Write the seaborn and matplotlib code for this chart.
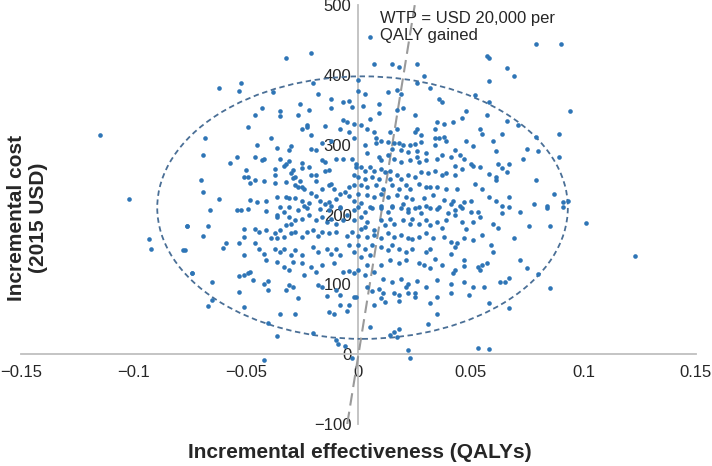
import numpy as np
import pandas as pd
import seaborn as sns
import matplotlib.pyplot as plt
from matplotlib.patches import Ellipse

# bootstrap replicates (incremental QALYs, incremental cost in 2015 USD)
upper_left = [
    (-0.062, 381), (-0.052, 389), (-0.053, 377), (-0.038, 375), (-0.020, 388), (-0.018, 373),
    (-0.012, 365), (-0.007, 361), (-0.004, 362), (-0.003, 354), (-0.012, 353), (-0.026, 358),
    (-0.043, 353), (-0.046, 342), (-0.035, 348), (-0.035, 341), (-0.027, 343), (-0.022, 350),
    (-0.007, 335), (-0.005, 332), (-0.002, 330), (-0.023, 328), (-0.023, 325), (-0.025, 322),
    (-0.015, 327), (-0.049, 325), (-0.068, 309), (-0.039, 310), (-0.021, 314), (-0.008, 322),
    (-0.004, 319), (-0.002, 310), (-0.012, 306), (-0.016, 302), (-0.019, 293), (-0.021, 294),
    (-0.030, 298), (-0.031, 292), (-0.036, 296), (-0.045, 300), (-0.069, 285), (-0.054, 282),
    (-0.057, 274), (-0.046, 283), (-0.043, 278), (-0.042, 279), (-0.035, 279), (-0.032, 273),
    (-0.033, 269), (-0.031, 277), (-0.025, 274), (-0.025, 267), (-0.022, 268), (-0.016, 278),
    (-0.015, 276), (-0.010, 279), (-0.007, 279), (-0.003, 279), (-0.013, 264), (-0.015, 262),
    (-0.019, 257), (-0.019, 248), (-0.021, 256), (-0.029, 264), (-0.030, 259), (-0.029, 253),
    (-0.037, 266), (-0.037, 257), (-0.050, 264), (-0.051, 254), (-0.049, 254), (-0.070, 249),
    (-0.069, 232), (-0.062, 222), (-0.048, 245), (-0.046, 250), (-0.042, 248), (-0.037, 245),
    (-0.032, 247), (-0.028, 254), (-0.026, 248), (-0.028, 243), (-0.027, 239), (-0.025, 240),
    (-0.024, 236), (-0.021, 231), (-0.019, 226), (-0.016, 236), (-0.013, 242), (-0.012, 244),
    (-0.011, 237), (-0.008, 230), (-0.006, 232), (-0.004, 239), (-0.002, 243), (-0.001, 268),
    (-0.002, 256), (-0.048, 221), (-0.045, 218), (-0.041, 220), (-0.036, 225), (-0.032, 225),
    (-0.031, 224), (-0.028, 224), (-0.025, 220), (-0.024, 213), (-0.022, 216), (-0.017, 219),
    (-0.015, 215), (-0.013, 218), (-0.012, 212), (-0.010, 223), (-0.008, 211), (-0.004, 226),
    (-0.002, 220), (-0.035, 211), (-0.031, 211), (-0.049, 208),
]

upper_right = [
    (0.007, 415), (0.015, 416), (0.018, 412), (0.026, 416), (0.029, 399), (0.026, 389),
    (0.032, 381), (-0.0004, 393), (-0.0004, 377), (0.003, 372), (0.013, 375), (0.017, 379),
    (0.019, 373), (0.036, 365), (0.037, 361), (0.058, 391), (0.066, 410), (0.069, 398),
    (0.052, 371), (0.058, 361), (0.002, 355), (0.009, 359), (0.009, 346), (0.017, 350),
    (0.020, 352), (0.025, 343), (0.048, 349), (0.057, 342), (0.066, 334), (0.071, 328),
    (0.094, 348), (0.005, 337), (0.001, 328), (0.004, 323), (0.007, 318), (0.008, 310),
    (0.010, 306), (0.014, 318), (0.017, 322), (0.026, 323), (0.025, 318), (0.028, 314),
    (0.035, 332), (0.034, 323), (0.038, 330), (0.042, 332), (0.046, 338), (0.034, 309),
    (0.036, 310), (0.038, 311), (0.039, 305), (0.034, 299), (0.054, 322), (0.055, 315),
    (0.064, 315), (0.060, 306), (0.079, 311), (0.089, 315), (0.048, 305), (0.051, 298),
    (0.043, 293), (0.075, 294), (0.080, 291), (0.061, 291), (0.073, 280), (0.089, 282),
    (0.013, 304), (0.016, 302), (0.018, 303), (0.020, 299), (0.023, 299), (0.025, 301),
    (0.028, 304), (0.015, 294), (0.019, 292), (0.022, 290), (0.026, 291), (0.030, 288),
    (0.008, 302), (0.003, 299), (0.004, 288), (0.009, 282), (0.010, 278), (0.013, 285),
    (0.016, 280), (0.019, 275), (0.023, 278), (0.026, 282), (0.027, 275), (0.030, 278),
    (0.035, 280), (0.037, 286), (0.041, 282), (0.045, 286), (0.047, 280), (0.043, 269),
    (0.046, 266), (0.050, 273), (0.051, 269), (0.054, 268), (0.062, 273), (0.064, 267),
    (0.067, 272), (0.066, 261), (0.058, 258), (0.061, 254), (0.061, 249), (0.052, 244),
    (0.055, 237), (0.079, 249), (0.087, 230), (0.091, 218), (-0.001, 273), (0.001, 268),
    (0.003, 263), (0.005, 268), (0.007, 263), (0.010, 266), (0.012, 261), (0.014, 263),
    (0.000, 254), (0.003, 251), (0.006, 254), (0.009, 251), (0.014, 251), (0.017, 256),
    (0.019, 251), (0.022, 256), (0.025, 254), (0.028, 261), (0.031, 259), (0.034, 263),
    (0.037, 256), (0.039, 259), (0.043, 256), (0.001, 242), (0.004, 240), (0.008, 242),
    (0.011, 237), (0.015, 242), (0.018, 237), (0.021, 242), (0.023, 237), (0.027, 244),
    (0.030, 240), (0.032, 240), (0.035, 240), (0.039, 237), (0.044, 237), (0.000, 230),
    (0.004, 228), (0.007, 225), (0.010, 230), (0.013, 225), (0.017, 228), (0.021, 225),
    (0.024, 223), (0.029, 224), (0.033, 228), (0.038, 221), (0.042, 220), (0.047, 218),
    (0.050, 220), (0.058, 225), (0.061, 220), (0.067, 225), (0.064, 212), (0.078, 215),
    (0.084, 212), (0.001, 216), (0.005, 211), (0.010, 213), (0.015, 212), (0.020, 215),
    (0.022, 208), (0.027, 211), (0.030, 212), (0.036, 211), (0.041, 215), (0.045, 212),
]

lower_left = [
    (-0.066, 207), (-0.054, 207), (-0.052, 207), (-0.041, 205), (-0.036, 197), (-0.036, 199),
    (-0.076, 184), (-0.067, 184), (-0.069, 169), (-0.092, 151), (-0.077, 149), (-0.060, 152),
    (-0.059, 159), (-0.053, 160), (-0.051, 180), (-0.051, 168), (-0.046, 179), (-0.044, 175),
    (-0.041, 178), (-0.046, 159), (-0.044, 151), (-0.051, 142), (-0.042, 144), (-0.041, 135),
    (-0.039, 166), (-0.037, 173), (-0.035, 178), (-0.032, 185), (-0.030, 187), (-0.028, 192),
    (-0.031, 197), (-0.025, 194), (-0.022, 199), (-0.019, 192), (-0.016, 197), (-0.014, 190),
    (-0.012, 194), (-0.010, 187), (-0.007, 192), (-0.005, 199), (-0.002, 192), (-0.033, 203),
    (-0.027, 206), (-0.023, 209), (-0.017, 208), (-0.013, 206), (-0.008, 209), (-0.002, 206),
    (-0.036, 166), (-0.033, 168), (-0.030, 173), (-0.028, 175), (-0.025, 168), (-0.023, 175),
    (-0.020, 178), (-0.018, 170), (-0.016, 175), (-0.013, 173), (-0.010, 175), (-0.005, 170),
    (-0.003, 175), (-0.037, 151), (-0.035, 147), (-0.033, 151), (-0.030, 142), (-0.028, 149),
    (-0.025, 142), (-0.020, 154), (-0.018, 147), (-0.014, 151), (-0.012, 144), (-0.010, 151),
    (-0.008, 142), (-0.004, 156), (-0.002, 147), (-0.036, 132), (-0.033, 125), (-0.031, 120),
    (-0.029, 132), (-0.025, 130), (-0.024, 113), (-0.021, 125), (-0.019, 118), (-0.016, 128),
    (-0.011, 130), (-0.007, 118), (-0.004, 119), (-0.002, 116), (-0.053, 112), (-0.051, 114),
    (-0.049, 116), (-0.048, 118), (-0.047, 107), (-0.042, 101), (-0.040, 105), (-0.031, 99),
    (-0.029, 97), (-0.018, 99), (-0.016, 96), (-0.014, 83), (-0.010, 92), (-0.008, 85),
    (-0.002, 82), (-0.074, 117), (-0.065, 103), (-0.065, 78), (-0.067, 69), (-0.053, 89),
    (-0.051, 68), (-0.040, 92), (-0.032, 92), (-0.027, 81), (-0.008, 70), (-0.004, 70),
    (-0.005, 62), (-0.013, 61), (-0.011, 58), (-0.028, 57), (-0.035, 57), (-0.040, 45),
    (-0.036, 26), (-0.020, 30), (-0.010, 20), (-0.006, 12), (-0.009, 14), (-0.042, -8),
    (-0.003, -6),
]

lower_right = [
    (0.000, 211), (0.003, 204), (0.006, 209), (0.010, 209), (0.013, 204), (0.015, 211),
    (0.019, 209), (0.022, 204), (0.025, 209), (0.028, 202), (0.032, 209), (0.035, 208),
    (0.040, 202), (0.043, 206), (0.046, 209), (0.050, 204), (0.053, 204), (0.064, 202),
    (0.072, 204), (0.076, 184), (0.085, 184), (0.084, 210), (0.091, 211), (0.067, 211),
    (0.060, 186), (0.062, 181), (0.069, 166), (0.001, 197), (0.004, 190), (0.001, 180),
    (0.003, 182), (0.007, 178), (0.010, 192), (0.012, 185), (0.014, 194), (0.016, 187),
    (0.020, 192), (0.023, 187), (0.024, 194), (0.027, 187), (0.030, 192), (0.032, 185),
    (0.035, 190), (0.037, 181), (0.039, 192), (0.043, 199), (0.046, 190), (0.048, 180),
    (0.051, 190), (0.054, 197), (0.055, 171), (0.059, 156), (0.060, 146), (0.072, 135),
    (0.075, 123), (0.080, 115), (0.085, 95), (0.067, 66), (0.058, 74), (0.000, 170),
    (0.004, 168), (0.007, 171), (0.010, 166), (0.013, 173), (0.016, 168), (0.019, 171),
    (0.022, 166), (0.024, 165), (0.027, 168), (0.030, 173), (0.033, 166), (0.038, 168),
    (0.041, 161), (0.043, 154), (0.044, 159), (0.047, 166), (0.051, 163), (0.000, 156),
    (0.003, 151), (0.006, 157), (0.010, 154), (0.013, 149), (0.015, 156), (0.018, 151),
    (0.021, 147), (0.024, 151), (0.030, 147), (0.032, 151), (0.034, 137), (0.041, 144),
    (0.047, 135), (0.047, 127), (0.053, 125), (0.055, 128), (0.057, 130), (0.054, 120),
    (0.043, 120), (0.042, 116), (0.037, 128), (0.001, 139), (0.005, 142), (0.004, 128),
    (0.010, 128), (0.014, 135), (0.018, 130), (0.021, 135), (0.027, 130), (0.029, 128),
    (0.032, 123), (0.000, 120), (0.003, 113), (0.007, 118), (0.011, 108), (0.015, 104),
    (0.019, 108), (0.022, 101), (0.026, 105), (0.030, 96), (0.035, 106), (0.041, 101),
    (0.047, 104), (0.051, 96), (0.056, 96), (0.063, 104), (0.065, 104), (0.067, 109),
    (-0.001, 82), (0.004, 96), (0.006, 90), (0.009, 94), (0.011, 88), (0.010, 80),
    (0.012, 75), (0.016, 87), (0.018, 85), (0.021, 96), (0.022, 87), (0.025, 87),
    (0.025, 82), (0.032, 74), (0.035, 82), (0.041, 87), (0.049, 85), (0.007, 71),
    (0.018, 76), (0.035, 57), (0.031, 44), (0.005, 39), (0.014, 27), (0.016, 32),
    (0.018, 36), (0.017, 25), (0.022, 6), (0.023, -6), (0.053, 9), (0.058, 8),
]

outliers = [
    (-0.115, 314), (-0.102, 222), (-0.093, 165), (-0.078, 149), (-0.076, 184), (-0.074, 117),
    (-0.032, 424), (-0.021, 431), (0.005, 455), (0.079, 445), (0.090, 445), (0.057, 427),
    (0.058, 424), (0.093, 219), (0.101, 188), (0.123, 140),
]

x_ticks = [-0.15, -0.1, -0.05, 0, 0.05, 0.1, 0.15]
x_labels = ["\u22120.15", "\u22120.1", "\u22120.05", "0", "0.05", "0.1", "0.15"]
y_ticks = [-100, 0, 100, 200, 300, 400, 500]
wtp = 20000  # USD per QALY gained
ellipse_center = (0.0018, 210)
ellipse_size = (0.1825, 376)

pts = upper_left + upper_right + lower_left + lower_right + outliers
df = pd.DataFrame(pts, columns=["effect", "cost"])

sns.set_style("white")
plt.rcParams["font.family"] = ["Liberation Sans", "DejaVu Sans"]

fig = plt.figure(figsize=(7.12, 4.66), dpi=100)
ax = fig.add_axes([0.0295, 0.090, 0.948, 0.899])

sns.scatterplot(data=df, x="effect", y="cost", ax=ax, color="#2E75B6",
                s=11, linewidth=0, zorder=3)

# confidence ellipse
ax.add_patch(Ellipse(ellipse_center, ellipse_size[0], ellipse_size[1], fill=False,
                     edgecolor="#4a6f96", linestyle=(0, (3, 2)), linewidth=1.3, zorder=2))

# willingness-to-pay threshold line
wx = np.array([-100, 500]) / wtp
ax.plot(wx, wx * wtp, color="#9a9a9a", linestyle=(0, (6, 3)), linewidth=1.5, zorder=2)
ax.text(0.0095, 492, "WTP = USD 20,000 per\nQALY gained", fontsize=12, va="top", ha="left")

ax.set_xlim(-0.15, 0.15)
ax.set_ylim(-100, 500)
for s in ["top", "right"]:
    ax.spines[s].set_visible(False)
ax.spines["left"].set_position(("data", 0))
ax.spines["bottom"].set_position(("data", 0))
for s in ["left", "bottom"]:
    ax.spines[s].set_color("#bfbfbf")
    ax.spines[s].set_linewidth(1.3)
    ax.spines[s].set_zorder(1)

ax.set_xticks(x_ticks)
ax.set_xticklabels(x_labels)
ax.set_yticks(y_ticks)
ax.tick_params(axis="x", direction="in", length=5, width=1.2, color="#bfbfbf", labelsize=12, pad=8)
ax.tick_params(axis="y", direction="in", length=5, width=1.2, color="#bfbfbf", labelsize=12, pad=5)
ax.set_xlabel("")
ax.set_ylabel("")

fig.text(0.5056, 0.030, "Incremental effectiveness (QALYs)", fontsize=15, fontweight="bold",
         ha="center", va="center")
fig.text(0.038, 0.532, "Incremental cost\n(2015 USD)", fontsize=15, fontweight="bold",
         rotation=90, ha="center", va="center")

fig.savefig("out.png", dpi=100)
